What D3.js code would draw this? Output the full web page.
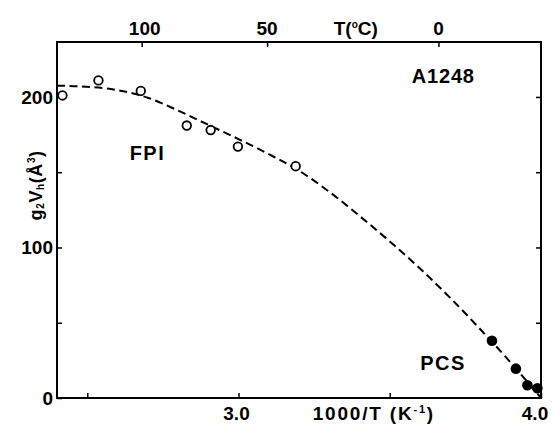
<!DOCTYPE html>
<html>
<head>
<meta charset="utf-8">
<script src="https://cdn.jsdelivr.net/npm/d3@7"></script>
<style>
  html, body { margin: 0; padding: 0; background: #fff; }
  svg { display: block; }
  text { font-family: "Liberation Sans", Arial, sans-serif; font-weight: bold; fill: #000; }
</style>
</head>
<body>
<svg id="chart" width="553" height="425"></svg>
<script>
// ---- data ----
const xTicksBottom = [2.5, 3.0, 3.5, 4.0];
const xTickLabelsBottom = ["", "3.0", "", "4.0"];
const topTicksC = [100, 50, 0];
const topTickLabels = ["100", "50", "0"];
const yTicks = [0, 50, 100, 150, 200];
const yTickLabels = ["0", "", "100", "", "200"];

// FPI (open circles)
const fpiX = [2.418, 2.537, 2.677, 2.829, 2.908, 2.998, 3.189];
const fpiY = [201, 211, 204, 181, 178, 167, 154];
// PCS (filled circles)
const pcsX = [3.838, 3.917, 3.955, 3.988];
const pcsY = [38, 19.5, 8.5, 6.5];
// dashed fitted curve
const fitX = [2.40, 2.48, 2.60, 2.70, 2.80, 2.90, 3.00, 3.10, 3.20, 3.30, 3.40, 3.50, 3.60, 3.70, 3.80, 3.90, 4.00];
const fitY = [207.5, 207, 204.5, 199.5, 191, 181.5, 172, 162, 151, 137, 121, 104, 86, 66.5, 45.5, 23.5, 0];

// ---- layout ----
const W = 553, H = 425;
const m = {left: 57, right: 12, top: 42, bottom: 27};
const svg = d3.select("#chart");
const x = d3.scaleLinear().domain([2.4, 4.0]).range([m.left, W - m.right]);
const y = d3.scaleLinear().domain([0, 236.5]).range([H - m.bottom, m.top]);
const toInvT = c => 1000 / (c + 273.15);
const FS = 19;

const g = svg.append("g");

// frame
g.append("rect")
  .attr("x", x(2.4)).attr("y", y(236.5))
  .attr("width", x(4.0) - x(2.4)).attr("height", y(0) - y(236.5))
  .attr("fill", "none").attr("stroke", "#000").attr("stroke-width", 2);

// bottom axis (ticks inward)
const xb = d3.axisBottom(x).tickValues(xTicksBottom).tickSize(-5).tickFormat(() => "");
g.append("g").attr("transform", `translate(0,${y(0)})`).call(xb)
  .call(s => s.select(".domain").remove())
  .call(s => s.selectAll("line").attr("stroke-width", 1.5));
g.selectAll(".xlab").data(xTicksBottom).enter().append("text")
  .attr("x", d => x(d) + (d === 4.0 ? -6 : -2)).attr("y", y(0) + 22)
  .attr("text-anchor", "middle").attr("font-size", FS)
  .text((d, i) => xTickLabelsBottom[i]);

// x title
const xt = g.append("text").attr("x", x(3.5) - 77).attr("y", y(0) + 22)
  .attr("text-anchor", "start").attr("font-size", FS).attr("letter-spacing", 1.8);
xt.append("tspan").text("1000/T (K");
xt.append("tspan").attr("font-size", 11).attr("dy", -7).text("-1");
xt.append("tspan").attr("dy", 7).text(")");

// top axis (°C)
const xtop = d3.axisTop(x).tickValues(topTicksC.map(toInvT)).tickSize(-5).tickFormat(() => "");
g.append("g").attr("transform", `translate(0,${y(236.5)})`).call(xtop)
  .call(s => s.select(".domain").remove())
  .call(s => s.selectAll("line").attr("stroke-width", 1.5));
g.selectAll(".tlab").data(topTicksC).enter().append("text")
  .attr("x", d => x(toInvT(d)) + (d === 100 ? 3 : 0)).attr("y", y(236.5) - 7)
  .attr("text-anchor", "middle").attr("font-size", FS)
  .text((d, i) => topTickLabels[i]);
const tt = g.append("text").attr("x", (x(toInvT(50)) + x(toInvT(0))) / 2 + 3).attr("y", y(236.5) - 7)
  .attr("text-anchor", "middle").attr("font-size", FS);
tt.append("tspan").text("T(");
tt.append("tspan").attr("font-size", 10).attr("dy", -7).text("o");
tt.append("tspan").attr("dy", 7).text("C)");

// left axis
const yl = d3.axisLeft(y).tickValues(yTicks).tickSize(-5).tickFormat(() => "");
g.append("g").attr("transform", `translate(${x(2.4)},0)`).call(yl)
  .call(s => s.select(".domain").remove())
  .call(s => s.selectAll("line").attr("stroke-width", 1.5));
g.selectAll(".ylab").data(yTicks).enter().append("text")
  .attr("x", x(2.4) - 4).attr("y", d => y(d) + 7)
  .attr("text-anchor", "end").attr("font-size", FS)
  .text((d, i) => yTickLabels[i]);

// right axis
const yr = d3.axisRight(y).tickValues(yTicks.slice(1)).tickSize(-5).tickFormat(() => "");
g.append("g").attr("transform", `translate(${x(4.0)},0)`).call(yr)
  .call(s => s.select(".domain").remove())
  .call(s => s.selectAll("line").attr("stroke-width", 1.5));

// y title (starts at bottom, reads upward)
const yt = g.append("text")
  .attr("transform", `translate(${x(2.4) - 15},${y(118)}) rotate(-90)`)
  .attr("text-anchor", "start").attr("font-size", 18).attr("letter-spacing", 0.6);
yt.append("tspan").text("g");
yt.append("tspan").attr("font-size", 10).attr("dy", 2).text("2");
yt.append("tspan").attr("dy", -2).text("V");
yt.append("tspan").attr("font-size", 10).attr("dy", 2).text("h");
yt.append("tspan").attr("dy", -2).text("(Å");
yt.append("tspan").attr("font-size", 10).attr("dy", -7).text("3");
yt.append("tspan").attr("dy", 7).text(")");

// dashed curve
const fit = fitX.map((d, i) => [d, fitY[i]]);
g.append("path").datum(fit)
  .attr("d", d3.line().x(d => x(d[0])).y(d => y(d[1])).curve(d3.curveMonotoneX))
  .attr("fill", "none").attr("stroke", "#000").attr("stroke-width", 2)
  .attr("stroke-dasharray", "8,4.5");

// FPI open circles
g.selectAll(".fpi").data(fpiX.map((d, i) => [d, fpiY[i]])).enter().append("circle")
  .attr("cx", d => x(d[0])).attr("cy", d => y(d[1])).attr("r", 4.3)
  .attr("fill", "#fff").attr("stroke", "#000").attr("stroke-width", 1.8);

// PCS filled circles
g.selectAll(".pcs").data(pcsX.map((d, i) => [d, pcsY[i]])).enter().append("circle")
  .attr("cx", d => x(d[0])).attr("cy", d => y(d[1])).attr("r", 5.3)
  .attr("fill", "#000");

// annotations
g.append("text").attr("x", x(2.699)).attr("y", y(158)).attr("text-anchor", "middle")
  .attr("font-size", 20).attr("letter-spacing", 1.5).text("FPI");
g.append("text").attr("x", x(3.676)).attr("y", y(18.6)).attr("text-anchor", "middle")
  .attr("font-size", 20).attr("letter-spacing", 1.5).text("PCS");
g.append("text").attr("x", x(3.677)).attr("y", y(209)).attr("text-anchor", "middle")
  .attr("font-size", 20).attr("letter-spacing", 0.8).text("A1248");
</script>
</body>
</html>
